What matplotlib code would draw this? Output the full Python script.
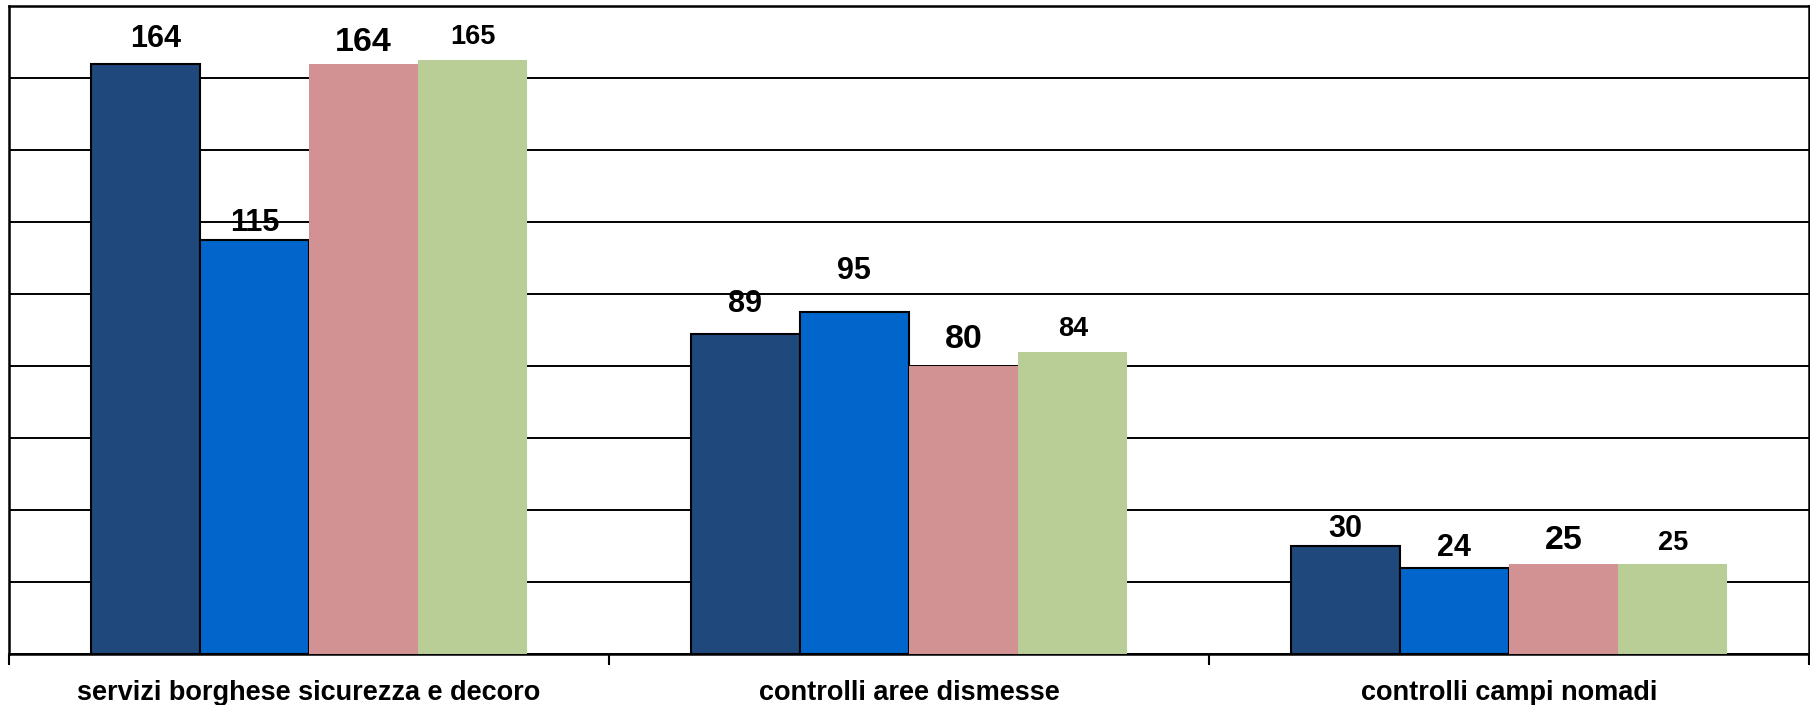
import matplotlib
matplotlib.use("Agg")
import matplotlib.pyplot as plt
import numpy as np

categories = ["servizi borghese sicurezza e decoro", "controlli aree dismesse", "controlli campi nomadi"]
series_a = [164, 89, 30]
series_b = [115, 95, 24]
series_c = [164, 80, 25]
series_d = [165, 84, 25]

# style
colors = ["#1F497D", "#0066CC", "#D29193", "#B9CE97"]
edges = ["black", "black", "none", "none"]
label_sizes = [22, 22, 24.5, 19.5]
# label gap above bar (pixels), per series per category
label_gaps = [[17, 22, 9], [9, 33, 12], [13, 18, 15], [16, 16, 14]]
label_dx = [[10, 0, 0], [0, 0, 0], [0, 0, 0], [0, 0, 0]]

plt.rcParams['font.family'] = ['Liberation Sans', 'DejaVu Sans']

fig = plt.figure(figsize=(18.1, 7.05), dpi=100)
ax = fig.add_axes([9/1810, 51/705, 1800/1810, 648/705])

x = np.arange(len(categories))
w = 0.182
all_series = [series_a, series_b, series_c, series_d]
for i, vals in enumerate(all_series):
    xs = x + (i - 1.5) * w
    ax.bar(xs, vals, width=w, color=colors[i], edgecolor=edges[i],
           linewidth=1.5 if edges[i] != "none" else 0, zorder=3)
    for j, v in enumerate(vals):
        ax.annotate(str(v), (xs[j], v), xytext=(label_dx[i][j] * 0.72, label_gaps[i][j] * 0.72),
                    textcoords="offset points", ha="center", va="baseline",
                    fontsize=label_sizes[i], fontweight="bold", zorder=4)

ax.set_xlim(-0.5, 2.5)
ax.set_ylim(0, 180)
ax.set_yticks(np.arange(0, 181, 20))
ax.yaxis.grid(True, color="black", linewidth=1.4, zorder=0)
ax.set_axisbelow(True)
ax.tick_params(axis="y", left=False, labelleft=False)

ax.set_xticks(x)
ax.set_xticklabels(categories, fontsize=19.5, fontweight="bold")
ax.tick_params(axis="x", which="major", length=0, pad=19)
ax.set_xticks([-0.5, 0.5, 1.5, 2.5], minor=True)
ax.tick_params(axis="x", which="minor", length=8, width=1.5, color="black")

for s in ax.spines.values():
    s.set_linewidth(1.8)
    s.set_color("black")

fig.savefig("out.png", dpi=100)
